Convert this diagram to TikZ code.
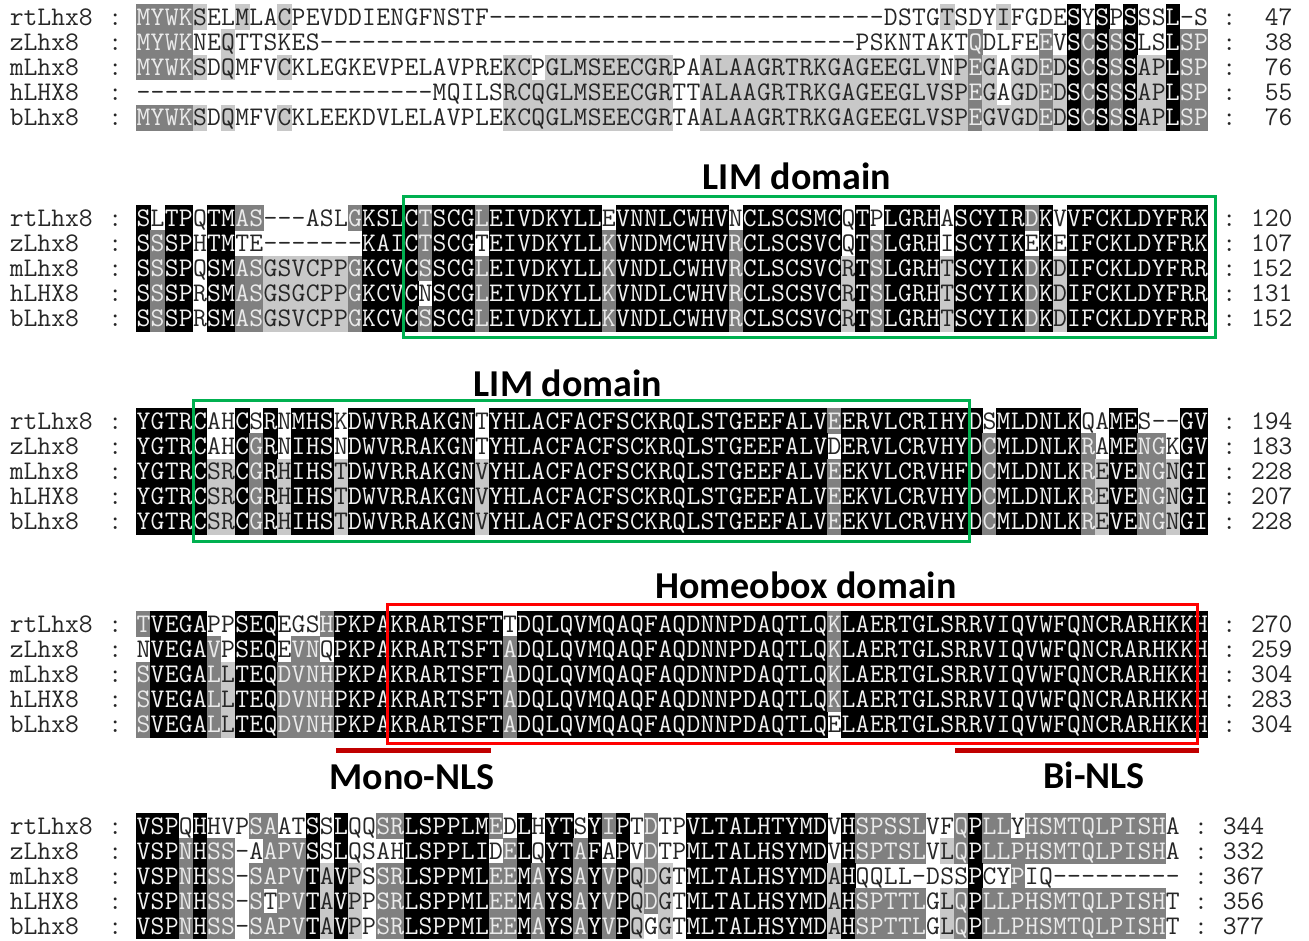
\documentclass[tikz,border=0pt]{standalone}
\usepackage{fontspec}
\usepackage{tikz}
\newfontfamily\titlefont{Carlito}

\definecolor{dgray}{RGB}{128,128,128}
\definecolor{lgray}{RGB}{200,200,200}
\definecolor{limgreen}{RGB}{0,176,80}
\definecolor{homeored}{RGB}{255,0,0}
\definecolor{nlsred}{RGB}{192,0,0}

\newcommand\seqfont{\fontsize{26.86}{28}\selectfont\ttfamily}
\def\xzero{136.5}
\def\cw{14.1}
\def\rh{25.2}
\newcount\colno

\newcommand\alnres[2]{%
  \pgfmathsetmacro\cx{\xzero+(\the\colno+0.5)*\cw}%
  \if#2w\else
    \fill[sh#2] (\cx-\cw/2-0.2, \cy-\rh/2-0.2) rectangle (\cx+\cw/2+0.2, \cy+\rh/2+0.2);
  \fi
  \node[res, tx#2] (\rowid-\the\colno) at (\cx, \cy+8) {#1};}

\def\alncell#1#2\relax#3#4\relax{%
  \alnres{#1}{#3}%
  \advance\colno by 1
  \ifx\relax#2\relax
    \let\alnnext\relax
  \else
    \def\alnnext{\alncell#2\relax#4\relax}%
  \fi
  \alnnext}

\newcommand\alnrow[6]{%
  \def\rowid{#1}\def\cy{#2}%
  \node[lbl, anchor=base west] (#1-name) at (\xzero-9*\cw, #2+8) {#3};
  \colno=0
  \alncell#4\relax#5\relax
  \node[lbl, anchor=base] (#1-colon) at ({\xzero+(\the\colno+1.5)*\cw}, #2+8) {:};
  \node[lbl, anchor=base east] (#1-num) at ({\xzero+(\the\colno+6)*\cw}, #2+8) {#6};
  \node[lbl, anchor=base] (#1-sep) at (\xzero-1.5*\cw, #2+8) {:};}

\begin{document}
\begin{tikzpicture}[x=1pt, y=-1pt,
    res/.style={font=\seqfont, inner sep=0pt, anchor=base},
    lbl/.style={font=\seqfont, inner sep=0pt, text=black!85},
    shl/.style={fill=lgray}, shg/.style={fill=dgray}, shk/.style={fill=black},
    txw/.style={text=black!85}, txl/.style={text=black!85},
    txg/.style={text=white!92!black}, txk/.style={text=white!95!black},
    domtitle/.style={font=\titlefont\bfseries\fontsize{38}{40}\selectfont, inner sep=0pt},
    dombox/.style={line width=3pt},
    nlsbar/.style={line width=5pt, nlsred}]
\useasboundingbox (0,0) rectangle (1309,940);

\alnrow{b1r1}{17}{rtLhx8}{MYWKSELMLA CPEVDDIENG FNSTF----- ---------- ---------- ---DSTGTSD YIFGDESYSP SSSL-S}{gggglwwlww lwwwwwwwww wwwwwwwwww wwwwwwwwww wwwwwwwwww wwwwwwwlww wlwwwwkwkw kwwkww}{47}
\alnrow{b1r2}{42.2}{zLhx8}{MYWKNEQTTS KES------- ---------- ---------- ---------- -PSKNTAKTQ DLFEEVSCSS SLSLSP}{ggggwwlwww wwwwwwwwww wwwwwwwwww wwwwwwwwww wwwwwwwwww wwwwwwwwwg wwwwgwkgkg kwwkgg}{38}
\alnrow{b1r3}{67.4}{mLhx8}{MYWKSDQMFV CKLEGKEVPE LAVPREKCPG LMSEECGRPA ALAAGRTRKG AGEEGLVNPE GAGDEDSCSS SAPLSP}{gggglwlwww lwwwwwwwww wwwwwwllwl llllllllww llllllllll lllllllwlg lwllglkgkg kllkgg}{76}
\alnrow{b1r4}{92.6}{hLHX8}{---------- ---------- -MQILSRCQG LMSEECGRTT ALAAGRTRKG AGEEGLVSPE GAGDEDSCSS SAPLSP}{wwwwwwwwww wwwwwwwwww wwwwwwllll llllllllww llllllllll lllllllllg lwllglkgkg kllkgg}{55}
\alnrow{b1r5}{117.8}{bLhx8}{MYWKSDQMFV CKLEEKDVLE LAVPLEKCQG LMSEECGRTA ALAAGRTRKG AGEEGLVSPE GVGDEDSCSS SAPLSP}{gggglwlwww lwwwwwwwww wwwwwwllll llllllllww llllllllll lllllllllg llllglkgkg kllkgg}{76}

\node[domtitle] (lim1) at (797,176) {LIM domain};
\alnrow{b2r1}{218}{rtLhx8}{SLTPQTMAS- --ASLGKSLC TSCGLEIVDK YLLEVNNLCW HVNCLSCSMC QTPLGRHASC YIRDKVVFCK LDYFRK}{kwkkwkkggw wwwwwgkkkk gkkkgkkkkk kkkwkkkkkk kkwkkkkkkk wkwkkkkwkk kkkgkwkkkk kkkkkk}{120}
\alnrow{b2r2}{243.2}{zLhx8}{SSSPHTMTE- ------KAIC TSCGTEIVDK YLLKVNDMCW HVRCLSCSVC QTSLGRHISC YIKEKEIFCK LDYFRK}{kgkkwkkwww wwwwwwkkkk gkkkwkkkkk kkkgkkkkkk kkgkkkkkkk wkgkkkkwkk kkkwkwkkkk kkkkkk}{107}
\alnrow{b2r3}{268.4}{mLhx8}{SSSPQSMASG SVCPPGKCVC SSCGLEIVDK YLLKVNDLCW HVRCLSCSVC RTSLGRHTSC YIKDKDIFCK LDYFRR}{kgkkwkkggl lllllgkkkk gkkkgkkkkk kkkgkkkkkk kkgkkkkkkk lkgkkkklkk kkkgklkkkk kkkkkk}{152}
\alnrow{b2r4}{293.6}{hLHX8}{SSSPRSMASG SGCPPGKCVC NSCGLEIVDK YLLKVNDLCW HVRCLSCSVC RTSLGRHTSC YIKDKDIFCK LDYFRR}{kgkkwkkggl lllllgkkkk wkkkgkkkkk kkkgkkkkkk kkgkkkkkkk lkgkkkklkk kkkgklkkkk kkkkkk}{131}
\alnrow{b2r5}{318.8}{bLhx8}{SSSPRSMASG SVCPPGKCVC SSCGLEIVDK YLLKVNDLCW HVRCLSCSVC RTSLGRHTSC YIKDKDIFCK LDYFRR}{kgkkwkkggl lllllgkkkk gkkkgkkkkk kkkgkkkkkk kkgkkkkkkk lkgkkkklkk kkkgklkkkk kkkkkk}{152}
\draw[dombox, limgreen] (403,196) rectangle (1215,337);

\node[domtitle] (lim2) at (568,383) {LIM domain};
\alnrow{b3r1}{421}{rtLhx8}{YGTRCAHCSR NMHSKDWVRR AKGNTYHLAC FACFSCKRQL STGEEFALVE ERVLCRIHYD SMLDNLKQAM ES--GV}{kkkkkwwkwk wkkkwkkkkk kkkkwkkkkk kkkkkkkkkk kkkkkkkkkg kkkkkkkkkk wkkkkkkwwk kwwwkk}{194}
\alnrow{b3r2}{446.2}{zLhx8}{YGTRCAHCGR NIHSNDWVRR AKGNTYHLAC FACFSCKRQL STGEEFALVD ERVLCRVHYD CMLDNLKRAM ENGKGV}{kkkkkwwkgk wkkkwkkkkk kkkkwkkkkk kkkkkkkkkk kkkkkkkkkw kkkkkkkkkk gkkkkkkgwk kggwkk}{183}
\alnrow{b3r3}{471.4}{mLhx8}{YGTRCSRCGR HIHSTDWVRR AKGNVYHLAC FACFSCKRQL STGEEFALVE EKVLCRVHFD CMLDNLKREV ENGNGI}{kkkkkllkgk lkkklkkkkk kkkklkkkkk kkkkkkkkkk kkkkkkkkkg kkkkkkkkkk gkkkkkkglk kgglkk}{228}
\alnrow{b3r4}{496.6}{hLHX8}{YGTRCSRCGR HIHSTDWVRR AKGNVYHLAC FACFSCKRQL STGEEFALVE EKVLCRVHYD CMLDNLKREV ENGNGI}{kkkkkllkgk lkkklkkkkk kkkklkkkkk kkkkkkkkkk kkkkkkkkkg kkkkkkkkkk gkkkkkkglk kgglkk}{207}
\alnrow{b3r5}{521.8}{bLhx8}{YGTRCSRCGR HIHSTDWVRR AKGNVYHLAC FACFSCKRQL STGEEFALVE EKVLCRVHYD CMLDNLKREV ENGNGI}{kkkkkllkgk lkkklkkkkk kkkklkkkkk kkkkkkkkkk kkkkkkkkkg kkkkkkkkkk gkkkkkkglk kgglkk}{228}
\draw[dombox, limgreen] (193,400) rectangle (969,541);

\node[domtitle] (homeo) at (806,585) {Homeobox domain};
\alnrow{b4r1}{624}{rtLhx8}{TVEGAPPSEQ EGSHPKPAKR ARTSFTTDQL QVMQAQFAQD NNPDAQTLQK LAERTGLSRR VIQVWFQNCR ARHKKH}{gkkkkwwkkk wwwgkkkkkk kkkkkkwkkk kkkkkkkkkk kkkkkkkkkg kkkkkkkkkk kkkkkkkkkk kkkkkk}{270}
\alnrow{b4r2}{649.2}{zLhx8}{NVEGAVPSEQ EVNQPKPAKR ARTSFTADQL QVMQAQFAQD NNPDAQTLQK LAERTGLSRR VIQVWFQNCR ARHKKH}{wkkkkgwkkk wggwkkkkkk kkkkkkgkkk kkkkkkkkkk kkkkkkkkkg kkkkkkkkkk kkkkkkkkkk kkkkkk}{259}
\alnrow{b4r3}{674.4}{mLhx8}{SVEGALLTEQ DVNHPKPAKR ARTSFTADQL QVMQAQFAQD NNPDAQTLQK LAERTGLSRR VIQVWFQNCR ARHKKH}{gkkkkglkkk ggggkkkkkk kkkkkkgkkk kkkkkkkkkk kkkkkkkkkg kkkkkkkkkk kkkkkkkkkk kkkkkk}{304}
\alnrow{b4r4}{699.6}{hLHX8}{SVEGALLTEQ DVNHPKPAKR ARTSFTADQL QVMQAQFAQD NNPDAQTLQK LAERTGLSRR VIQVWFQNCR ARHKKH}{gkkkkglkkk ggggkkkkkk kkkkkkgkkk kkkkkkkkkk kkkkkkkkkg kkkkkkkkkk kkkkkkkkkk kkkkkk}{283}
\alnrow{b4r5}{724.8}{bLhx8}{SVEGALLTEQ DVNHPKPAKR ARTSFTADQL QVMQAQFAQD NNPDAQTLQE LAERTGLSRR VIQVWFQNCR ARHKKH}{gkkkkglkkk ggggkkkkkk kkkkkkgkkk kkkkkkkkkk kkkkkkkkkw kkkkkkkkkk kkkkkkkkkk kkkkkk}{304}
\draw[dombox, homeored] (387,604) rectangle (1197,743);

\coordinate (mono-a) at (336,750);
\coordinate (mono-b) at (491,750);
\coordinate (bi-a) at (955,750);
\coordinate (bi-b) at (1199,750);
\draw[nlsbar] (mono-a) -- (mono-b);
\draw[nlsbar] (bi-a) -- (bi-b);
\node[domtitle] (mononls) at (412,777) {Mono-NLS};
\node[domtitle] (binls) at (1094,775) {Bi-NLS};

\alnrow{b5r1}{826}{rtLhx8}{VSPQHHVPSA ATSSLQQSRL SPPLMEDLHY TSYIPTDTPV LTALHTYMDV HSPSSLVFQP LLYHSMTQLP ISHA}{kkkwkwwwgg wwkwkwwggk kkkkkgwkwk kwkgkwgwwk kkkkkkkkkw kgggggwwgk ggwggggggg gggw}{344}
\alnrow{b5r2}{851}{zLhx8}{VSPNHSS-AA PVSSLQSAHL SPPLIDELQY TAFAPVDTPM LTALHSYMDV HSPTSLVLQP LLPHSMTQLP ISHA}{kkkgkggwwg ggkwkwwwwk kkkkkwgkwk kgkwkwgwwk kkkkkkkkkw kgggggwlgk gggggggggg gggw}{332}
\alnrow{b5r3}{876}{mLhx8}{VSPNHSS-SA PVTAVPSSRL SPPMLEEMAY SAYVPQDGTM LTALHSYMDA HQQLL-DSSP CYPIQ----- ----}{kkkgkggwgg ggklklwggk kkkkkggkgk kgkgklglwk kkkkkkkkkl kwwwwwwwwk wwgwwwwwww wwww}{367}
\alnrow{b5r4}{901}{hLHX8}{VSPNHSS-ST PVTAVPPSRL SPPMLEEMAY SAYVPQDGTM LTALHSYMDA HSPTTLGLQP LLPHSMTQLP ISHT}{kkkgkggwgw ggklklwggk kkkkkggkgk kgkgklglwk kkkkkkkkkl kgggggwlgk gggggggggg gggw}{356}
\alnrow{b5r5}{926}{bLhx8}{VSPNHSS-SA PVTAVPPSRL SPPMLEEMAY SAYVPQGGTM LTALHSYMDA HSPTTLGLQP LLPHSMTQLP ISHT}{kkkgkggwgg ggklklwggk kkkkkggkgk kgkgklwlwk kkkkkkkkkl kgggggwlgk gggggggggg gggw}{377}
\end{tikzpicture}
\end{document}
